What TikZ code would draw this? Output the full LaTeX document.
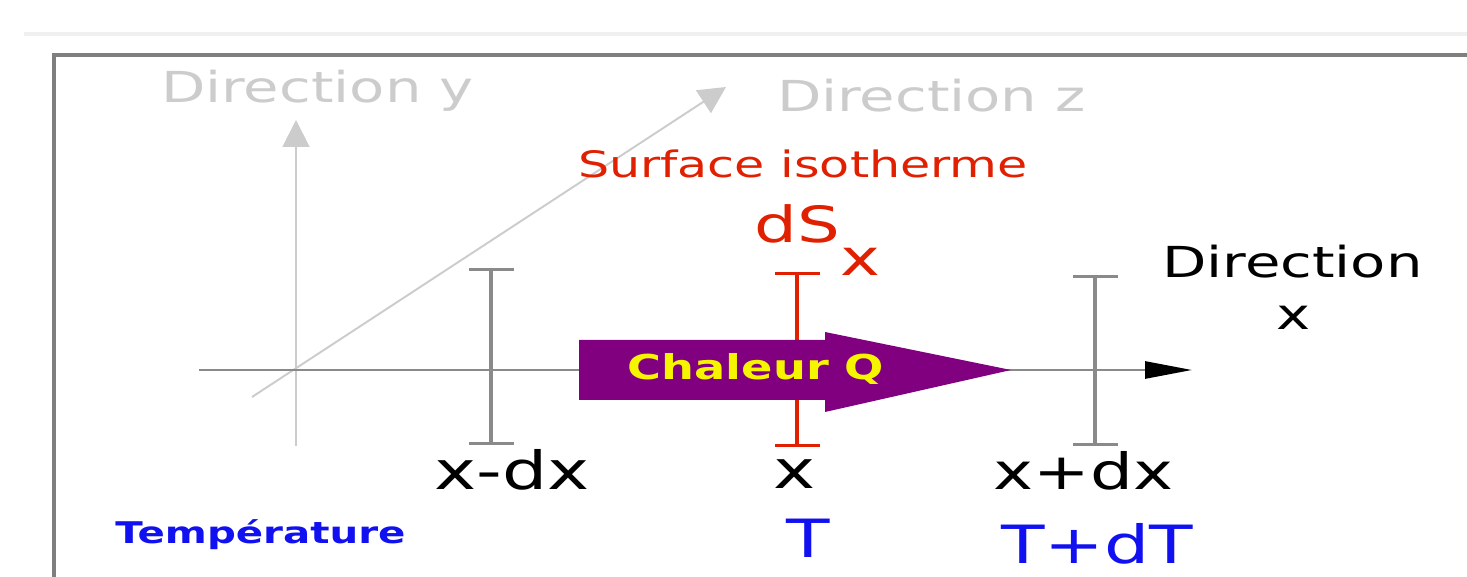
\documentclass[tikz,border=0pt]{standalone}
\usepackage{fontspec}
\setmainfont{DejaVu Sans}[FakeStretch=1.35]
\usetikzlibrary{arrows.meta}

\definecolor{axisgray}{HTML}{CCCCCC}
\definecolor{bargray}{HTML}{8A8A8A}
\definecolor{framegray}{HTML}{7F7F7F}
\definecolor{isored}{HTML}{E02000}
\definecolor{tempblue}{HTML}{1010F0}
\definecolor{heatpurple}{HTML}{800080}
\definecolor{heatyellow}{HTML}{F5F500}

\begin{document}
\begin{tikzpicture}[
    fs/.style={font=\fontsize{#1}{#1}\selectfont},
    fsb/.style={font=\fontsize{#1}{#1}\selectfont\bfseries},
    lightaxis/.style={axisgray, line width=1.1pt, -{Triangle[length=0.54cm,width=0.54cm]}},
    bar/.style={line width=2.8pt, {Bar[width=0.9cm,line width=1.8pt]}-{Bar[width=0.9cm,line width=1.8pt]}},
]
    \useasboundingbox (0,0) rectangle (29.34,11.52);

    % page strip and frame
    \draw [gray!12, line width=2.6pt] (0.48,10.84) -- (29.34,10.84);
    \draw [framegray, line width=2pt] (1.08,-0.3) -- (1.08,10.42) -- (29.6,10.42);

    \coordinate (o) at (5.92,4.12);

    \coordinate (y0) at (5.92,2.6);
    \coordinate (y) at (5.92,9.12);
    \coordinate (z0) at (5.04,3.58);
    \coordinate (z) at (14.52,9.78);
    \coordinate (x0) at (3.98,4.12);
    \coordinate (x) at (23.84,4.12);

    \draw [lightaxis] (y0) -- (y);
    \draw [lightaxis] (z0) -- (z);
    \draw [bargray, line width=1.6pt, -{Triangle[length=0.94cm,width=0.34cm,black]}] (x0) -- (x);

    \node [axisgray, fs=24.3, anchor=base] (ly) at (6.35,9.46) {Direction y};
    \node [axisgray, fs=24.3, anchor=base] (lz) at (18.63,9.28) {Direction z};
    \node [fs=24.3, anchor=base] (lx) at (25.85,5.96) {Direction};
    \node [fs=24.3, anchor=base] (lxx) at (25.87,4.92) {x};

    % the three surfaces
    \coordinate (s1t) at (9.82,6.16);
    \coordinate (s1b) at (9.82,2.62);
    \coordinate (s2t) at (15.94,6.08);
    \coordinate (s2b) at (15.94,2.58);
    \coordinate (s3t) at (21.9,6.02);
    \coordinate (s3b) at (21.9,2.6);

    \draw [bar, bargray] (s1b) -- (s1t);
    \draw [bar, isored] (s2b) -- (s2t);
    \draw [bar, bargray] (s3b) -- (s3t);

    \node [isored, fs=20.7, anchor=base] (iso) at (16.06,7.96) {Surface isotherme};
    \node [isored, fs=28.4, anchor=base] (ds) at (16.35,6.66) {dS\raisebox{-0.66cm}{x}};

    % heat arrow
    \fill [heatpurple] (11.58,4.72) -- (16.5,4.72) -- (16.5,4.88) -- (20.22,4.12)
        -- (16.5,3.28) -- (16.5,3.52) -- (11.58,3.52) -- cycle;
    \node [heatyellow, fsb=19.5, anchor=base] (q) at (15.12,3.92) {Chaleur Q};

    \node [fs=30, anchor=base] (xm) at (10.24,1.72) {x-dx};
    \node [fs=30, anchor=base] (xc) at (15.9,1.76) {x};
    \node [fs=28.5, anchor=base] (xp) at (21.67,1.72) {x+dx};

    \node [tempblue, fsb=17, anchor=base] (temp) at (5.21,0.66) {Température};
    \node [tempblue, fs=30, anchor=base] (tc) at (16.17,0.38) {T};
    \node [tempblue, fs=30, anchor=base] (tp) at (21.94,0.26) {T+dT};

\end{tikzpicture}
\end{document}
